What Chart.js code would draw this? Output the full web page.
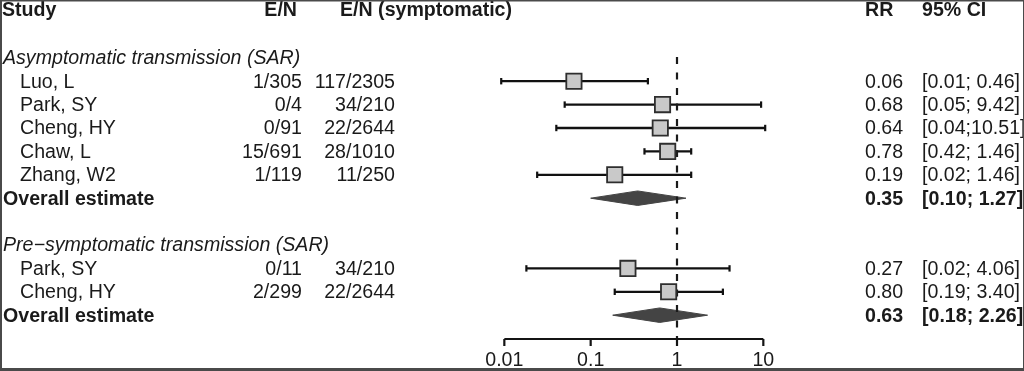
<!DOCTYPE html>
<html>
<head>
<meta charset="utf-8">
<script src="https://cdn.jsdelivr.net/npm/chart.js@4.4.0/dist/chart.umd.min.js"></script>
<style>
  html, body { margin: 0; padding: 0; background: #fff; }
  canvas { display: block; }
</style>
</head>
<body>
<canvas id="forest" width="1024" height="371"></canvas>
<script>
// 数据
const headers = ['Study', 'E/N', 'E/N (symptomatic)', 'RR', '95% CI'];
const groupLabels = ['Asymptomatic transmission (SAR)', 'Pre\u2212symptomatic transmission (SAR)'];
const studyNames = ['Luo, L', 'Park, SY', 'Cheng, HY', 'Chaw, L', 'Zhang, W2', 'Park, SY', 'Cheng, HY'];
const studyGroup = [0, 0, 0, 0, 0, 1, 1];
const eventsExposed = ['1/305', '0/4', '0/91', '15/691', '1/119', '0/11', '2/299'];
const eventsSymptomatic = ['117/2305', '34/210', '22/2644', '28/1010', '11/250', '34/210', '22/2644'];
const rr = [0.064, 0.68, 0.64, 0.78, 0.19, 0.27, 0.80];
const ciLow = [0.0092, 0.05, 0.04, 0.42, 0.024, 0.018, 0.19];
const ciHigh = [0.46, 9.42, 10.51, 1.46, 1.46, 4.06, 3.40];
const pooledLabel = 'Overall estimate';
const pooledRR = [0.35, 0.63];
const pooledLow = [0.10, 0.18];
const pooledHigh = [1.27, 2.26];
const axisTicks = [0.01, 0.1, 1, 10];
const axisLabels = ['0.01', '0.1', '1', '10'];

// 行号
const groupRows = [], studyRows = [], pooledRows = [];
let r = 2;
groupLabels.forEach((g, gi) => {
  groupRows.push(r); r++;
  studyGroup.forEach((sg, i) => { if (sg === gi) { studyRows[i] = r; r++; } });
  pooledRows.push(r); r += 2;
});
const axisRow = pooledRows[pooledRows.length - 1] + 1;
const labelRow = axisRow + 1;

const fmt = v => v.toFixed(2);
const ciStr = (lo, hi) => '[' + fmt(lo) + ';' + fmt(hi).padStart(5, ' ') + ']';

const FONT = '"Liberation Sans", Arial, sans-serif';
const SIZE = 19.6;
const INK = '#1a1a1a';

const datasets = [];

datasets.push({
  label: 'studies',
  data: rr.map((v, i) => ({ x: v, y: studyRows[i] })),
  pointStyle: 'rect',
  pointRadius: 10.8,
  pointBackgroundColor: '#c9c9c9',
  pointBorderColor: '#2e2e2e',
  pointBorderWidth: 1.8,
  order: 0
});

datasets.push({
  label: 'ref',
  data: [{ x: 1, y: groupRows[0] - 0.03 }, { x: 1, y: axisRow }],
  showLine: true,
  borderColor: '#1a1a1a',
  borderWidth: 2.2,
  borderDash: [7, 8.5],
  pointRadius: 0,
  order: 1
});

pooledRR.forEach((est, g) => {
  const row = pooledRows[g];
  datasets.push({
    label: 'pooled' + g,
    data: [
      { x: pooledLow[g], y: row },
      { x: est, y: row - 0.31 },
      { x: pooledHigh[g], y: row },
      { x: est, y: row + 0.31 },
      { x: pooledLow[g], y: row }
    ],
    showLine: true,
    fill: 'shape',
    backgroundColor: '#444',
    borderColor: '#444',
    borderWidth: 1,
    tension: 0,
    pointRadius: 0,
    order: 2
  });
});

rr.forEach((v, i) => {
  datasets.push({
    label: 'ci' + i,
    data: [{ x: ciLow[i], y: studyRows[i] }, { x: ciHigh[i], y: studyRows[i] }],
    showLine: true,
    borderColor: '#111',
    borderWidth: 2.3,
    pointStyle: 'line',
    pointRotation: 90,
    pointRadius: 3.2,
    pointBorderWidth: 2.2,
    pointBorderColor: '#111',
    order: 3
  });
});

const tablePlugin = {
  id: 'table',
  afterDraw(chart) {
    const ctx = chart.ctx;
    const xs = chart.scales.x, ys = chart.scales.y;
    const rowY = row => ys.getPixelForValue(row) + 1;
    const txt = (s, x, y, align, style) => {
      ctx.font = (style || '') + ' ' + SIZE + 'px ' + FONT;
      ctx.textAlign = align;
      ctx.fillText(s, x, y);
    };
    ctx.save();
    ctx.fillStyle = INK;
    ctx.textBaseline = 'middle';

    // 表头
    const hy = rowY(0) - 1;
    txt(headers[0], 2, hy, 'left', 'bold');
    txt(headers[1], 297, hy, 'right', 'bold');
    txt(headers[2], 340, hy, 'left', 'bold');
    txt(headers[3], 865, hy, 'left', 'bold');
    txt(headers[4], 922, hy, 'left', 'bold');

    groupLabels.forEach((g, gi) => {
      txt(g, 3, rowY(groupRows[gi]), 'left', 'italic');
      const py = rowY(pooledRows[gi]);
      txt(pooledLabel, 3, py, 'left', 'bold');
      txt(fmt(pooledRR[gi]), 865, py, 'left', 'bold');
      txt(ciStr(pooledLow[gi], pooledHigh[gi]), 922, py, 'left', 'bold');
    });

    studyNames.forEach((n, i) => {
      const y = rowY(studyRows[i]);
      txt(n, 20, y, 'left');
      txt(eventsExposed[i], 302, y, 'right');
      txt(eventsSymptomatic[i], 395, y, 'right');
      txt(fmt(rr[i]), 865, y, 'left');
      txt(ciStr(ciLow[i], ciHigh[i]), 922, y, 'left');
    });

    // 横轴
    const ay = Math.round(ys.getPixelForValue(axisRow));
    const x0 = xs.getPixelForValue(axisTicks[0]);
    const x1 = xs.getPixelForValue(axisTicks[axisTicks.length - 1]);
    ctx.strokeStyle = '#141414';
    ctx.lineWidth = 2.2;
    ctx.beginPath();
    ctx.moveTo(x0, ay);
    ctx.lineTo(x1, ay);
    axisTicks.forEach(t => {
      const tx = xs.getPixelForValue(t);
      ctx.moveTo(tx, ay);
      ctx.lineTo(tx, ay + 7);
    });
    ctx.stroke();
    axisTicks.forEach((t, k) => {
      txt(axisLabels[k], xs.getPixelForValue(t), rowY(labelRow) - 2.5, 'center');
    });

    // 边框
    ctx.fillStyle = '#4a4a4a';
    ctx.fillRect(0, 0, chart.width, 1.5);
    ctx.fillRect(0, 0, 2, chart.height);
    ctx.fillRect(chart.width - 1, 0, 1, chart.height);
    ctx.fillRect(0, chart.height - 3, chart.width, 3);
    ctx.restore();
  }
};

new Chart(document.getElementById('forest'), {
  type: 'scatter',
  data: { datasets },
  options: {
    responsive: false,
    animation: false,
    events: [],
    layout: { padding: 0, autoPadding: false },
    scales: {
      x: {
        type: 'logarithmic',
        display: false,
        bounds: 'data',
        min: Math.pow(10, -677 / 86.33),
        max: Math.pow(10, (1024 - 677) / 86.33)
      },
      y: {
        type: 'linear',
        display: false,
        reverse: true,
        min: -0.47,
        max: 15.385
      }
    },
    plugins: {
      legend: { display: false },
      tooltip: { enabled: false }
    }
  },
  plugins: [tablePlugin]
});
</script>
</body>
</html>
